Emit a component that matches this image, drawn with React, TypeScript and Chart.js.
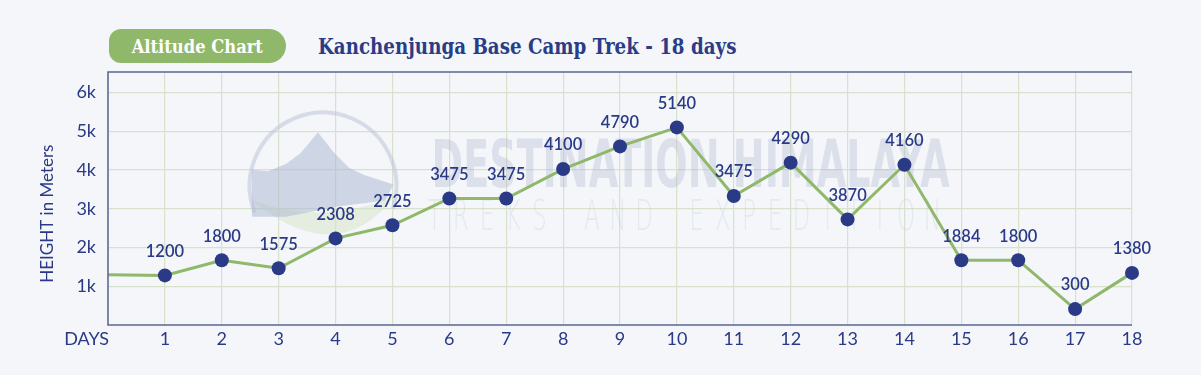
import React, { useEffect, useRef } from "react";
import { Chart, registerables } from "chart.js";

Chart.register(...registerables);

const days = [0, 1, 2, 3, 4, 5, 6, 7, 8, 9, 10, 11, 12, 13, 14, 15, 16, 17, 18];
const dayTickLabels = ["", "1", "2", "3", "4", "5", "6", "7", "8", "9", "10", "11", "12", "13", "14", "15", "16", "17", "18"];
const plottedHeights = [1300, 1280, 1670, 1465, 2235, 2575, 3265, 3265, 4025, 4610, 5100, 3330, 4190, 2725, 4135, 1672, 1672, 410, 1345];
const pointLabels = ["", "1200", "1800", "1575", "2308", "2725", "3475", "3475", "4100", "4790", "5140", "3475", "4290", "3870", "4160", "1884", "1800", "300", "1380"];
const yTickValues = [1000, 2000, 3000, 4000, 5000, 6000];
const yTickLabels = ["1k", "2k", "3k", "4k", "5k", "6k"];

const xAxisName = "DAYS";
const yAxisName = "HEIGHT in Meters";
const badgeText = "Altitude Chart";
const titleText = "Kanchenjunga Base Camp Trek - 18 days";
const watermarkMain = "DESTINATION HIMALAYA";
const watermarkSub = "TREKS AND EXPEDITION";

const NAVY = "#2a3a86";
const GREEN = "#8fb86a";
const BG = "#f4f6fa";
const GRID = "#d8e1cb";
const FONT = "Lato, 'Open Sans', sans-serif";

const decorPlugin = {
  id: "decor",
  beforeDatasetsDraw(chart: any) {
    const { ctx, chartArea } = chart;
    const { left, right, top, bottom } = chartArea;
    const w = right - left;
    const h = bottom - top;
    ctx.save();
    // logo watermark
    const cx = left + w * 0.21;
    const cy = top + h * 0.45;
    const r = h * 0.29;
    const P = (a: number, b: number): [number, number] => [cx + a * r, cy + b * r];
    // green bowl
    ctx.fillStyle = "rgba(215,230,200,0.55)";
    ctx.beginPath();
    ctx.moveTo(...P(-0.97, 0.2));
    ctx.quadraticCurveTo(...P(0, 0.55), ...P(0.97, 0.15));
    ctx.quadraticCurveTo(...P(0.2, 1.15), ...P(-0.97, 0.2));
    ctx.closePath();
    ctx.fill();
    // circle
    ctx.strokeStyle = "rgba(190,197,215,0.55)";
    ctx.lineWidth = 4;
    ctx.beginPath();
    ctx.arc(cx, cy, r, Math.PI * 0.88, Math.PI * 2.1);
    ctx.stroke();
    // mountain
    ctx.fillStyle = "rgba(175,185,212,0.55)";
    ctx.beginPath();
    ctx.moveTo(...P(-0.97, 0.42));
    ctx.lineTo(...P(-0.97, -0.22));
    ctx.lineTo(...P(-0.75, -0.2));
    ctx.lineTo(...P(-0.5, -0.3));
    ctx.lineTo(...P(-0.3, -0.45));
    ctx.lineTo(...P(-0.07, -0.73));
    ctx.lineTo(...P(0.15, -0.45));
    ctx.lineTo(...P(0.35, -0.25));
    ctx.lineTo(...P(0.55, -0.15));
    ctx.lineTo(...P(0.96, -0.02));
    ctx.lineTo(...P(0.85, 0.2));
    ctx.lineTo(...P(0.2, 0.28));
    ctx.lineTo(...P(-0.5, 0.42));
    ctx.closePath();
    ctx.fill();
    // main watermark text
    ctx.fillStyle = "rgba(170,178,205,0.32)";
    ctx.font = `900 60px 'DejaVu Sans', sans-serif`;
    ctx.textBaseline = "alphabetic";
    ctx.textAlign = "left";
    const mainW = ctx.measureText(watermarkMain).width;
    const targetW = w * 0.506;
    ctx.save();
    ctx.translate(left + w * 0.316, top + h * 0.455);
    ctx.scale(targetW / mainW, 1.1);
    ctx.fillText(watermarkMain, 0, 0);
    ctx.restore();
    // sub watermark text
    ctx.fillStyle = "rgba(175,185,205,0.22)";
    ctx.font = `300 42px 'DejaVu Sans', sans-serif`;
    const letters = watermarkSub.split("");
    const subStart = left + w * 0.319;
    const subEnd = left + w * 0.805;
    const step = (subEnd - subStart) / (letters.length - 1);
    ctx.textAlign = "center";
    letters.forEach((ch, i) => {
      ctx.save();
      ctx.translate(subStart + i * step, top + h * 0.625);
      ctx.scale(0.55, 1);
      ctx.fillText(ch, 0, 0);
      ctx.restore();
    });
    ctx.restore();
  },
  afterDraw(chart: any) {
    const { ctx, chartArea, scales } = chart;
    const { left, right, top, bottom } = chartArea;
    ctx.save();
    // frame
    ctx.strokeStyle = "#5b6594";
    ctx.lineWidth = 1.5;
    ctx.beginPath();
    ctx.moveTo(right, top);
    ctx.lineTo(left, top);
    ctx.lineTo(left, bottom);
    ctx.lineTo(right, bottom);
    ctx.stroke();
    // point labels
    const meta = chart.getDatasetMeta(0);
    ctx.fillStyle = NAVY;
    ctx.font = `600 16.5px ${FONT}`;
    ctx.textAlign = "center";
    ctx.textBaseline = "middle";
    meta.data.forEach((pt: any, i: number) => {
      const t = pointLabels[i];
      if (!t) return;
      ctx.fillText(t, pt.x, pt.y - 24);
    });
    // DAYS label
    ctx.font = `18px ${FONT}`;
    ctx.textAlign = "right";
    ctx.fillText(xAxisName, scales.x.left + 1, bottom + 14);
    // y axis title
    ctx.save();
    ctx.translate(48, top + (bottom - top) * 0.56);
    ctx.rotate(-Math.PI / 2);
    ctx.textAlign = "center";
    ctx.font = `17px ${FONT}`;
    ctx.fillText(yAxisName, 0, 0);
    ctx.restore();
    ctx.restore();
  },
};

export default function App() {
  const canvasRef = useRef<HTMLCanvasElement | null>(null);

  useEffect(() => {
    if (!canvasRef.current) return;
    const chart = new Chart(canvasRef.current, {
      type: "line",
      data: {
        datasets: [
          {
            data: days.map((d, i) => ({ x: d, y: plottedHeights[i] })),
            borderColor: GREEN,
            borderWidth: 3,
            backgroundColor: NAVY,
            pointBackgroundColor: NAVY,
            pointBorderWidth: 0,
            pointRadius: (c: any) => (c.dataIndex === 0 ? 0 : 7),
            pointHoverRadius: (c: any) => (c.dataIndex === 0 ? 0 : 7),
            tension: 0,
            clip: false as any,
          },
        ],
      },
      options: {
        animation: false,
        responsive: false,
        maintainAspectRatio: false,
        events: [],
        layout: { padding: { left: 0, right: 69, top: 72, bottom: 0 } },
        plugins: { legend: { display: false }, tooltip: { enabled: false }, title: { display: false } },
        scales: {
          x: {
            type: "linear",
            min: 0,
            max: 18,
            afterBuildTicks: (s: any) => {
              s.ticks = days.map((d) => ({ value: d }));
            },
            afterFit: (s: any) => {
              s.height = 50;
            },
            ticks: {
              autoSkip: false,
              maxRotation: 0,
              padding: 3,
              color: NAVY,
              font: { family: FONT, size: 18 },
              callback: (_v: any, i: number) => dayTickLabels[i],
            },
            grid: { color: GRID, lineWidth: 1.2, drawTicks: false },
            border: { display: false },
          },
          y: {
            type: "linear",
            min: 0,
            max: 6530,
            afterBuildTicks: (s: any) => {
              s.ticks = yTickValues.map((v) => ({ value: v }));
            },
            afterFit: (s: any) => {
              s.width = 108;
            },
            ticks: {
              padding: 12,
              color: NAVY,
              font: { family: FONT, size: 18 },
              callback: (_v: any, i: number) => yTickLabels[i],
            },
            grid: { color: GRID, lineWidth: 1.2, drawTicks: false },
            border: { display: false },
          },
        },
      },
      plugins: [decorPlugin],
    } as any);
    return () => chart.destroy();
  }, []);

  return (
    <div style={{ position: "absolute", left: 0, top: 0, width: 1201, height: 375, background: BG, overflow: "hidden" }}>
      <div
        style={{
          position: "absolute",
          left: 109,
          top: 29,
          width: 177,
          height: 34,
          background: GREEN,
          borderRadius: "12px 17px 17px 12px",
          display: "flex",
          alignItems: "center",
          justifyContent: "center",
        }}
      >
        <span
          style={{
            display: "inline-block",
            color: "#ffffff",
            fontFamily: "'DejaVu Serif', serif",
            fontWeight: 700,
            fontSize: 19,
            lineHeight: "34px",
            whiteSpace: "nowrap",
            transform: "scaleX(0.86)",
            transformOrigin: "center",
          }}
        >
          {badgeText}
        </span>
      </div>
      <div
        style={{
          position: "absolute",
          left: 318,
          top: 29,
          height: 34,
          color: "#2b3c87",
          fontFamily: "'DejaVu Serif', serif",
          fontWeight: 700,
          fontSize: 22,
          lineHeight: "34px",
          whiteSpace: "nowrap",
          transform: "scaleX(0.83)",
          transformOrigin: "left center",
        }}
      >
        {titleText}
      </div>
      <canvas ref={canvasRef} width={1201} height={375} style={{ position: "absolute", left: 0, top: 0 }} />
    </div>
  );
}
